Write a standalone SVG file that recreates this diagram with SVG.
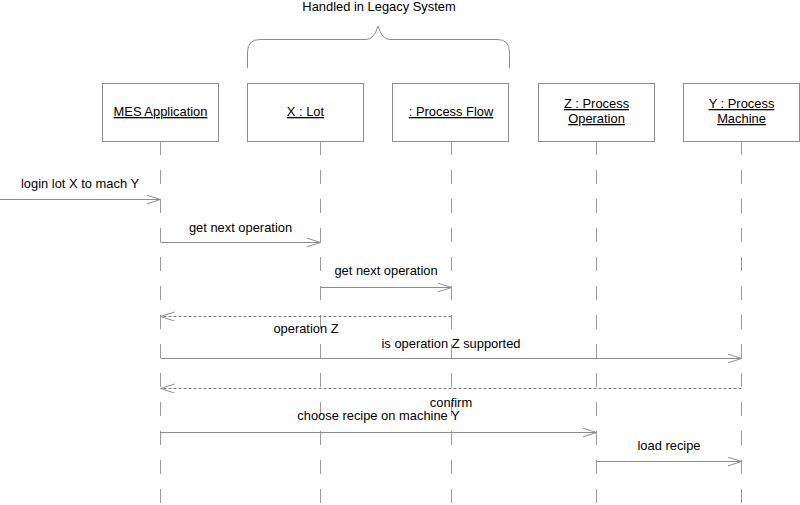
<svg xmlns="http://www.w3.org/2000/svg" width="800" height="505" viewBox="0 0 800 505">
<style>
text{font-family:"Liberation Sans",Arial,sans-serif;font-size:12.9px;fill:#000}
.lbl{text-anchor:middle}
.obj{text-anchor:middle;text-decoration:underline}
.box{fill:#fff;stroke:#8c8c8c;stroke-width:1}
.life{stroke:#9a9a9a;stroke-width:1;stroke-dasharray:14 15;fill:none}
.msg{stroke:#8c8c8c;stroke-width:1;fill:none;marker-end:url(#open)}
.ret{stroke:#7a7a7a;stroke-width:1;stroke-dasharray:3 2;fill:none;marker-end:url(#open)}
</style>
<defs>
<marker id="open" markerUnits="userSpaceOnUse" markerWidth="16" markerHeight="12" refX="14" refY="4.5" orient="auto">
<path d="M0,0 L14,4.5 L0,9" fill="none" stroke="#8c8c8c" stroke-width="1"/>
</marker>
</defs>
<rect width="800" height="505" fill="#fff"/>
<g id="legacy-brace">
<text class="lbl" x="379" y="11">Handled in Legacy System</text>
<path d="M247.5,68 V52 Q247.5,39.5 260,39.5 H366 Q374,39.5 378,26 Q382,39.5 390,39.5 H497 Q509.5,39.5 509.5,52 V68" fill="none" stroke="#8c8c8c" stroke-width="1"/>
</g>
<g id="lifelines">
<line class="life" x1="160.5" y1="141" x2="160.5" y2="505"/>
<line class="life" x1="320.5" y1="141" x2="320.5" y2="505"/>
<line class="life" x1="451.5" y1="141" x2="451.5" y2="505"/>
<line class="life" x1="596.5" y1="141" x2="596.5" y2="505"/>
<line class="life" x1="741.5" y1="141" x2="741.5" y2="505"/>
</g>
<g id="mes">
<rect class="box" x="102.5" y="83.5" width="116" height="58"/>
<text class="obj" x="160.5" y="116">MES Application</text>
</g>
<g id="lot">
<rect class="box" x="247.5" y="83.5" width="116" height="58"/>
<text class="obj" x="305.5" y="116">X : Lot</text>
</g>
<g id="flow">
<rect class="box" x="392.5" y="83.5" width="116" height="58"/>
<text class="obj" x="451" y="116">: Process Flow</text>
</g>
<g id="operation">
<rect class="box" x="538.5" y="83.5" width="116" height="58"/>
<text class="obj" x="596.5" y="108">Z : Process</text>
<text class="obj" x="596.5" y="123">Operation</text>
</g>
<g id="machine">
<rect class="box" x="683.5" y="83.5" width="116" height="58"/>
<text class="obj" x="741.5" y="108">Y : Process</text>
<text class="obj" x="741.5" y="123">Machine</text>
</g>
<g id="connectors">
<line class="msg" x1="0" y1="199.5" x2="160.5" y2="199.5"/>
<text class="lbl" x="80" y="188">login lot X to mach Y</text>
<line class="msg" x1="160.5" y1="242.5" x2="320.5" y2="242.5"/>
<text class="lbl" x="240.5" y="232">get next operation</text>
<line class="msg" x1="320.5" y1="287.5" x2="451.5" y2="287.5"/>
<text class="lbl" x="386" y="275">get next operation</text>
<line class="ret" x1="451.5" y1="316.5" x2="160.5" y2="316.5"/>
<text class="lbl" x="306" y="333">operation Z</text>
<line class="msg" x1="160.5" y1="358.5" x2="741.5" y2="358.5"/>
<text class="lbl" x="451" y="348">is operation Z supported</text>
<line class="ret" x1="741.5" y1="388.5" x2="160.5" y2="388.5"/>
<text class="lbl" x="451" y="407">confirm</text>
<line class="msg" x1="160.5" y1="432.5" x2="596.5" y2="432.5"/>
<text class="lbl" x="378.5" y="420">choose recipe on machine Y</text>
<line class="msg" x1="596.5" y1="461.5" x2="741.5" y2="461.5"/>
<text class="lbl" x="669" y="450">load recipe</text>
</g>
</svg>
